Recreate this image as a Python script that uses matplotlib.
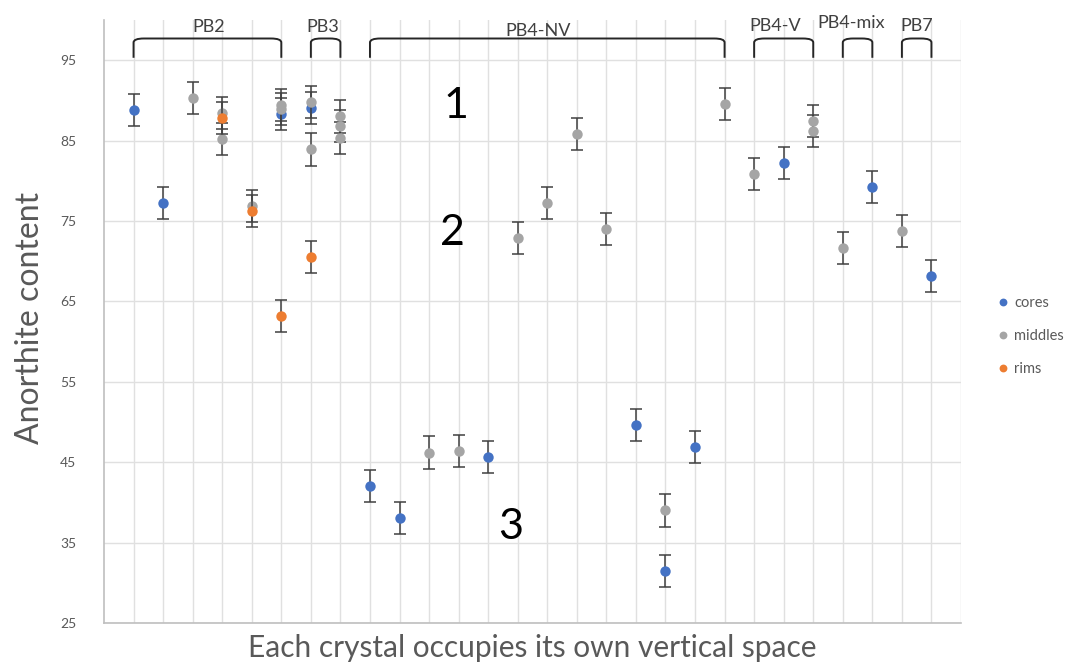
import matplotlib
matplotlib.use("Agg")
import matplotlib.pyplot as plt
from matplotlib.path import Path
from matplotlib.patches import PathPatch

plt.rcParams['font.family'] = ['Lato', 'DejaVu Sans']

# crystal index along x, anorthite content along y
cores_x = [1, 2, 6, 7, 9, 10, 13, 18, 19, 20, 23, 26, 28]
cores_y = [88.8, 77.2, 88.3, 89.1, 42.0, 38.1, 45.6, 49.6, 31.5, 46.9, 82.2, 79.2, 68.2]

middles_x = [3, 4, 4, 5, 6, 6, 7, 7, 8, 8, 8, 11, 12, 14, 15, 16, 17, 19, 21, 22, 24, 24, 25, 27]
middles_y = [90.3, 88.4, 85.2, 76.9, 89.4, 88.9, 89.8, 83.9, 88.0, 86.8, 85.3, 46.2, 46.4,
             72.9, 77.2, 85.8, 74.0, 39.0, 89.6, 80.8, 87.4, 86.2, 71.6, 73.8]

rims_x = [4, 5, 6, 7]
rims_y = [87.8, 76.2, 63.2, 70.5]

err = 2.0

# sample groups: first crystal, last crystal, name
groups = [(1, 6, 'PB2'), (7, 8, 'PB3'), (9, 21, 'PB4-NV'),
          (22, 24, 'PB4-V'), (25, 26, 'PB4-mix'), (27, 28, 'PB7')]
# hand-placed name positions (x, y) so they don't crowd each other
name_pos = [(3.55, 99.1), (7.4, 99.1), (14.7, 98.6),
            (22.7, 99.2), (25.3, 99.6), (27.5, 99.2)]

zones = [('1', 11.9, 89.3), ('2', 11.8, 73.5), ('3', 13.75, 36.9)]

fig = plt.figure(figsize=(10.81, 6.67), dpi=100)
ax = fig.add_axes([104/1081, 1 - 623/667, (961 - 104)/1081, (623 - 20)/667])

series = [(cores_x, cores_y, '#4472C4', 'cores'),
          (middles_x, middles_y, '#A5A5A5', 'middles'),
          (rims_x, rims_y, '#ED7D31', 'rims')]
for i, (xs, ys, col, name) in enumerate(series):
    ax.errorbar(xs, ys, yerr=err, fmt='none', ecolor='#404040', elinewidth=1.1,
                capsize=4.5, capthick=1.1, zorder=3 + i)
    ax.plot(xs, ys, 'o', color=col, ms=7.5, mec='none', zorder=3 + i, label=name)

ax.set_xlim(0, 29)
ax.set_ylim(25, 100)
ax.set_yticks(range(25, 100, 10))
ax.set_xticks(range(1, 30))
ax.set_xticklabels([])
ax.tick_params(axis='both', length=0, labelsize=10, labelcolor='#595959')
ax.tick_params(axis='y', pad=20)
ax.grid(True, color='#e0e0e0', lw=1)
ax.set_axisbelow(True)
for s in ['top', 'right']:
    ax.spines[s].set_visible(False)
for s in ['left', 'bottom']:
    ax.spines[s].set_color('#bfbfbf')
    ax.spines[s].set_linewidth(1.2)

fig.text(532/1081, 1 - 648/667, 'Each crystal occupies its own vertical space',
         ha='center', va='center', fontsize=21.5, color='#595959')
fig.text(30/1081, 1 - 318/667, 'Anorthite content', rotation=90,
         ha='center', va='center', fontsize=23, color='#595959')

# brackets over each sample group
r = 0.35
for (x0, x1, name), (tx, ty) in zip(groups, name_pos):
    lo, hi = 95.3, 97.7
    verts = [(x0, lo), (x0, hi - 0.5), (x0, hi), (x0 + r, hi),
             (x1 - r, hi), (x1, hi), (x1, hi - 0.5), (x1, lo)]
    codes = [Path.MOVETO, Path.LINETO, Path.CURVE3, Path.CURVE3,
             Path.LINETO, Path.CURVE3, Path.CURVE3, Path.LINETO]
    ax.add_patch(PathPatch(Path(verts, codes), fill=False, ec='#262626', lw=1.4,
                           clip_on=False, zorder=6))
    ax.text(tx, ty, name, ha='center', va='center', fontsize=13,
            color='#404040', clip_on=False)

for label, x, y in zones:
    ax.text(x, y, label, ha='center', va='center', fontsize=31, color='black')

fig.legend(loc='center left', bbox_to_anchor=(985/1081, 1 - 336/667), frameon=False,
           fontsize=10.5, labelcolor='#595959', markerscale=0.75, handlelength=0.6,
           handletextpad=0.5, labelspacing=1.3)

fig.savefig('out.png', dpi=100, facecolor='white')
